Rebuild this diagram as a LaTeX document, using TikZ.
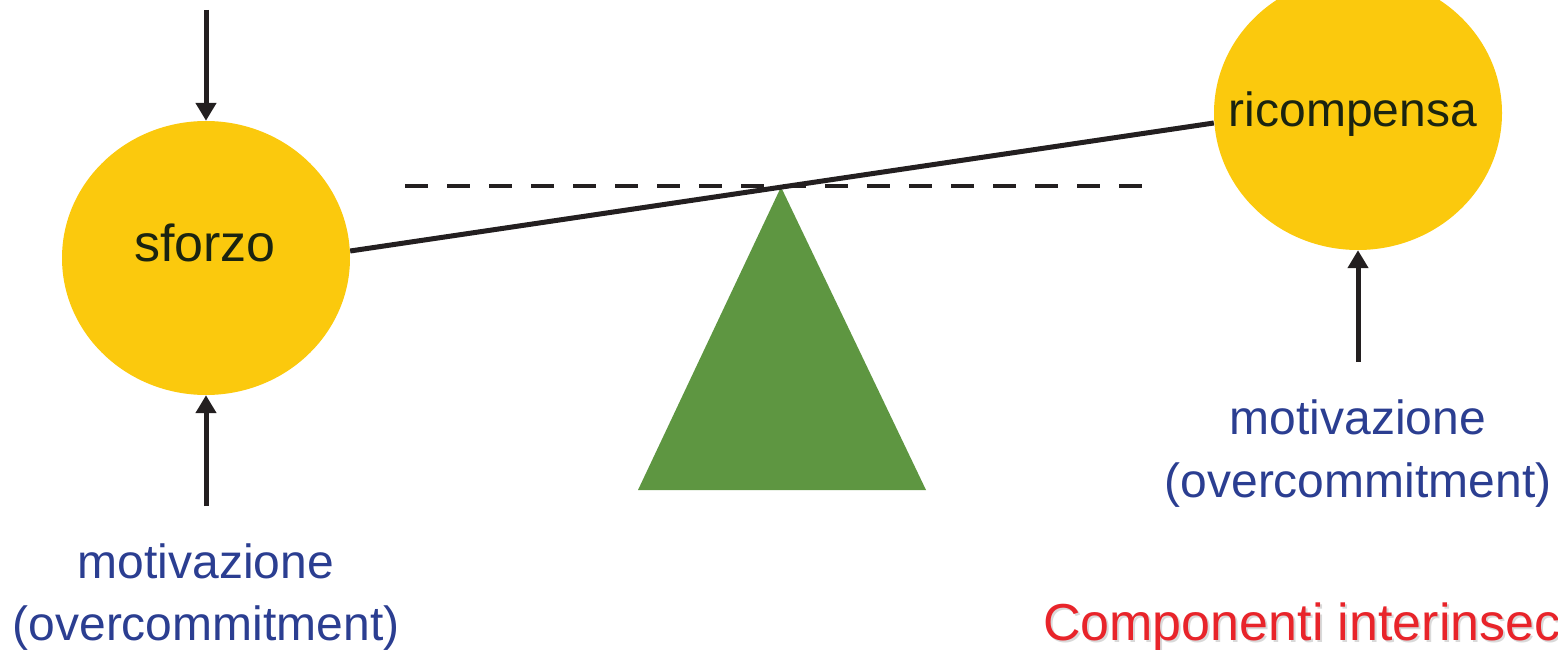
\documentclass[tikz,border=0pt]{standalone}
\usepackage{fontspec}
\setmainfont{Liberation Sans}
\usetikzlibrary{arrows.meta,shapes.geometric}
\definecolor{ballyellow}{HTML}{FBC90D}
\definecolor{pivotgreen}{HTML}{5E9641}
\definecolor{lineblack}{HTML}{231F20}
\definecolor{txtblue}{HTML}{2B3E91}
\definecolor{txtred}{HTML}{E8242A}
\definecolor{txtdark}{HTML}{1B2410}
\tikzset{
  ball/.style={ellipse, fill=ballyellow, minimum width=288pt, minimum height=274pt, inner sep=0pt},
  bigtext/.style={font=\fontsize{48}{58}\selectfont, anchor=base, inner sep=0pt},
  bluetext/.style={bigtext, text=txtblue},
  redtext/.style={bigtext, anchor=base west, font=\fontsize{52}{60}\selectfont},
  push/.style={line width=5pt, draw=lineblack, -{Triangle[width=20pt,length=18pt]}},
}
\begin{document}
\begin{tikzpicture}[x=1pt,y=-1pt]
\useasboundingbox (0,0) rectangle (1558,650);
\clip (0,0) rectangle (1558,650);
% balls
\node[ball] (sforzo) at (206,258) {};
\node[ball] (ricomp) at (1358,113) {};
\node[bigtext, text=txtdark, font=\fontsize{52}{60}\selectfont] (tsf) at (205,261) {sforzo};
\node[bigtext, text=txtdark] (tri) at (1353,127) {ricompensa};
% dashed level
\coordinate (dl) at (405,186);
\coordinate (dr) at (1145,186);
\draw[line width=4.5pt, draw=lineblack, dash pattern=on 23pt off 19pt] (dl) -- (dr);
% pivot
\coordinate (apex) at (781,187);
\coordinate (bl) at (638,490);
\coordinate (br) at (926,490);
\fill[pivotgreen] (apex) -- (bl) -- (br) -- cycle;
% lever
\path (sforzo.east) ++(0,-7) coordinate (le);
\path (ricomp.west) ++(0,10) coordinate (re);
\draw[line width=5pt, draw=lineblack] (le) -- (re);
% arrows
\coordinate (topstart) at (206,10);
\draw[push] (topstart) -- (sforzo.north);
\coordinate (botstart) at (206,506);
\draw[push] (botstart) -- (sforzo.south);
\coordinate (rstart) at (1358,362);
\draw[push] (rstart) -- (ricomp.south);
% labels
\node[bluetext] (m1) at (206,578) {motivazione};
\node[bluetext] (o1) at (206,640) {(overcommitment)};
\node[bluetext] (m2) at (1358,434) {motivazione};
\node[bluetext] (o2) at (1358,497) {(overcommitment)};
\node[redtext, text=black!15] (compshadow) at (1045,642) {Componenti interinseche};
\node[redtext, text=txtred] (comp) at (1043,640) {Componenti interinseche};
\end{tikzpicture}
\end{document}
